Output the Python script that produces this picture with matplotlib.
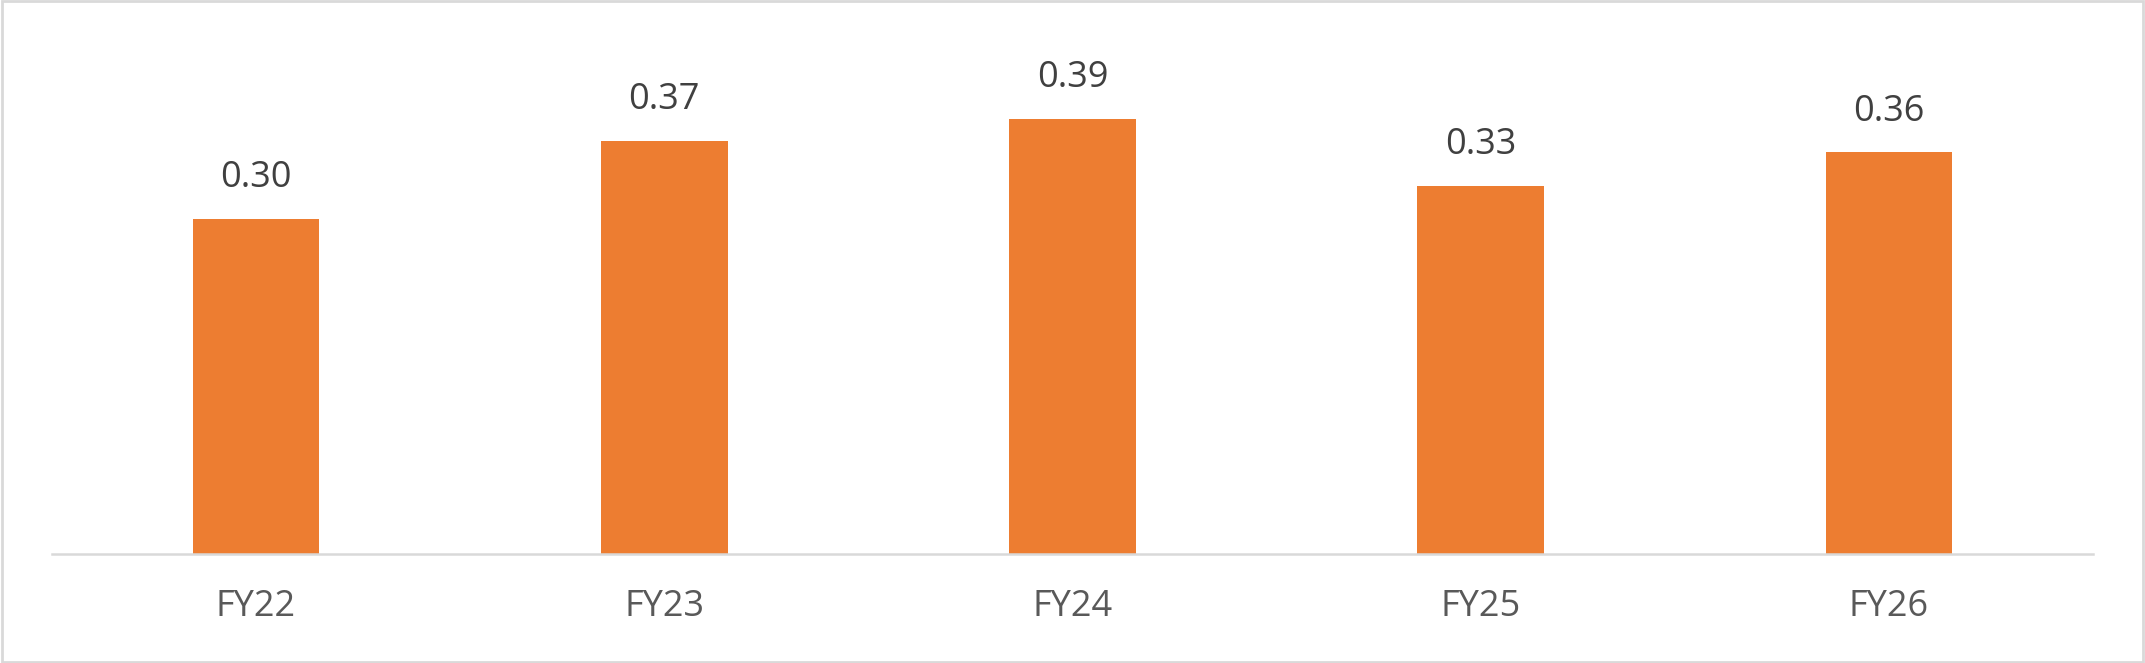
import matplotlib.pyplot as plt
from matplotlib.patches import Rectangle

# Datos
categorias = ["FY22", "FY23", "FY24", "FY25", "FY26"]
valores = [0.30, 0.37, 0.39, 0.33, 0.36]

naranja = "#ED7D31"
gris_eje = "#D9D9D9"

plt.rcParams['font.family'] = ['Open Sans', 'DejaVu Sans']

fig = plt.figure(figsize=(21.45, 6.63), dpi=100)
ax = fig.add_axes([0.0242, 0.1644, 0.9516, 0.757])

x = range(len(categorias))
barras = ax.bar(x, valores, width=0.31, color=naranja)

ax.set_xlim(-0.5, len(categorias) - 0.5)
ax.set_ylim(0, 0.45)

for b, v in zip(barras, valores):
    ax.annotate(f"{v:.2f}", (b.get_x() + b.get_width() / 2, b.get_height()),
                xytext=(0, 23), textcoords="offset points",
                ha="center", va="baseline", fontsize=26, color="#404040")

ax.set_xticks(list(x))
ax.set_xticklabels(categorias, fontsize=26, color="#595959")
ax.tick_params(axis="x", length=0, pad=25)
ax.set_yticks([])

for lado in ["top", "right", "left"]:
    ax.spines[lado].set_visible(False)
ax.spines["bottom"].set_color(gris_eje)
ax.spines["bottom"].set_linewidth(1.8)

# borde del grafico
fig.patches.append(Rectangle((0.001, 0.002), 0.998, 0.996, transform=fig.transFigure,
                             fill=False, edgecolor=gris_eje, linewidth=2))

fig.savefig("out.png", dpi=100)
